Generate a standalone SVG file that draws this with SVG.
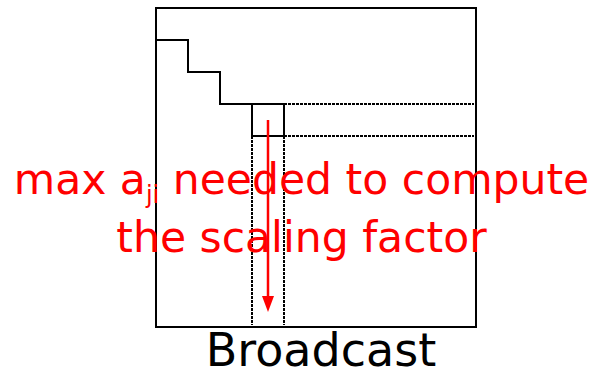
<svg xmlns="http://www.w3.org/2000/svg" width="590" height="378" viewBox="0 0 590 378">
  <style>
    .solid { fill: none; stroke: #000; stroke-width: 2; }
    .dot { fill: none; stroke: #000; stroke-width: 2; stroke-dasharray: 3 1; }
    .label { font-family: "DejaVu Sans", sans-serif; fill: #ff0000; font-size: 42.5px; }
    .caption { font-family: "DejaVu Sans", sans-serif; fill: #000; font-size: 46px; }
  </style>

  <!-- matrix outline and staircase -->
  <g id="matrix">
    <rect class="solid" x="156" y="8" width="320" height="319"/>
    <polyline class="solid" points="156,40 188,40 188,72 220,72 220,104 252,104"/>
  </g>

  <!-- pivot block -->
  <g id="pivot">
    <rect class="solid" x="252" y="104" width="32" height="32"/>
  </g>

  <!-- row and column extents of the pivot, and the broadcast arrow -->
  <g id="connectors">
    <line class="dot" x1="284" y1="104" x2="474" y2="104"/>
    <line class="dot" x1="284" y1="136" x2="474" y2="136"/>
    <line class="dot" x1="252" y1="136" x2="252" y2="325"/>
    <line class="dot" x1="284" y1="136" x2="284" y2="325"/>
    <line x1="268" y1="120" x2="268" y2="296" stroke="#ff0000" stroke-width="2.5"/>
    <path d="M262,296 L274,296 L268,312 Z" fill="#ff0000"/>
  </g>

  <!-- annotation -->
  <g id="annotation">
    <text class="label" x="301.5" y="194" text-anchor="middle">max a<tspan font-size="24" dy="9">ji</tspan><tspan dy="-9"> needed to compute</tspan></text>
    <text class="label" x="301.5" y="252" text-anchor="middle">the scaling factor</text>
  </g>

  <g id="caption">
    <text class="caption" x="321" y="366" text-anchor="middle">Broadcast</text>
  </g>
</svg>
